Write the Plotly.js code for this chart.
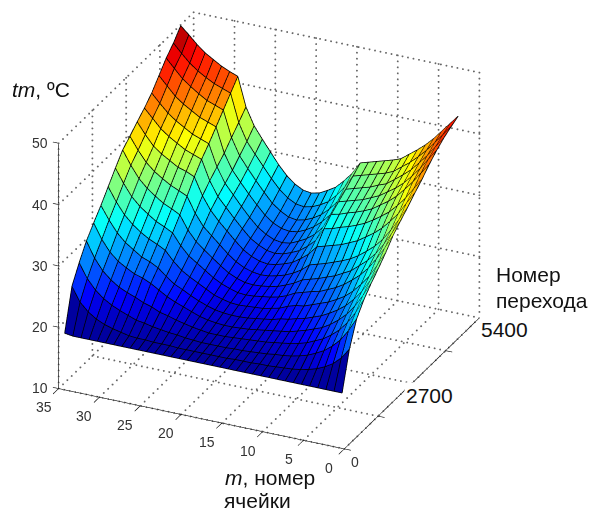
<!DOCTYPE html>
<html><head><meta charset="utf-8">
<script src="https://cdn.plot.ly/plotly-3.0.1.min.js"></script>
<style>html,body{margin:0;padding:0;background:#fff}#c{width:589px;height:510px}</style>
</head><body><div id="c"></div>
<script>
const cellNumbers=[0.3,1.3,2.3,3.3,4.3,5.3,6.3,7.3,8.3,9.3,10.3,11.3,12.3,13.3,14.3,15.3,16.3,17.3,18.3,19.3,20.3,21.3,22.3,23.3,24.3,25.3,26.3,27.3,28.3,29.3,30.3,31.3,32.3,33.3,34.3];
const transitions=[0,290,580,870,1160,1450,1740,2030,2320,2610,2900,3190,3480,3770,4060,4350,4640];
const temperature=[
[19,19,19,19,19,19,19,19,19,19,19,19,19,19,19,19,19,19,19,19,19,19,19,19,19,19,19,19,19,19,19,19,19,19,19.2],
[25.0,23.3,22.1,21.3,20.7,20.3,20.0,19.8,19.7,19.6,19.5,19.5,19.4,19.4,19.4,19.3,19.3,19.3,19.3,19.3,19.3,19.3,19.4,19.4,19.4,19.5,19.5,19.6,19.9,20.2,20.6,21.2,22.1,23.4,25.7],
[28.8,26.6,24.8,23.5,22.5,21.8,21.2,20.8,20.5,20.3,20.2,20.0,19.9,19.8,19.7,19.7,19.6,19.6,19.6,19.6,19.7,19.8,20.0,20.1,20.3,20.5,20.8,21.0,21.5,22.0,22.6,23.4,24.5,26.1,28.4],
[30.8,28.4,26.5,25.0,23.9,23.0,22.4,21.8,21.4,21.1,20.9,20.7,20.5,20.4,20.3,20.2,20.1,20.0,20.0,20.0,20.2,20.4,20.7,21.0,21.4,21.7,22.3,22.7,23.3,23.8,24.4,25.3,26.5,28.3,30.8],
[32.3,30.0,28.0,26.4,25.2,24.2,23.4,22.9,22.4,22.0,21.6,21.4,21.2,21.0,20.8,20.6,20.5,20.4,20.4,20.5,20.7,21.0,21.5,22.0,22.5,23.1,23.9,24.7,25.3,25.7,26.4,27.2,28.4,30.2,32.6],
[33.6,31.3,29.3,27.7,26.4,25.4,24.6,23.9,23.4,22.9,22.6,22.2,22.0,21.6,21.4,21.2,21.0,20.9,20.9,21.0,21.2,21.6,22.1,22.7,23.4,24.0,25.0,26.1,26.8,27.3,28.2,29.1,30.4,32.2,34.3],
[35.0,32.7,30.6,29.0,27.6,26.5,25.7,25.0,24.5,24.0,23.5,23.3,22.9,22.3,22.0,21.7,21.6,21.5,21.4,21.5,21.8,22.2,22.9,23.6,24.3,25.1,26.3,27.8,28.5,29.1,29.9,30.9,32.2,34.0,36.2],
[36.6,34.3,32.3,30.5,29.1,28.0,27.0,26.2,25.6,25.0,24.7,24.3,23.9,23.2,22.7,22.4,22.2,22.0,21.9,22.0,22.4,22.9,23.6,24.5,25.4,26.3,27.7,29.5,30.2,30.8,31.7,32.7,34.0,35.9,38.1],
[37.8,35.6,33.5,31.7,30.3,29.2,28.1,27.4,26.7,26.2,25.7,25.3,24.9,24.1,23.5,23.0,22.7,22.5,22.4,22.5,22.9,23.5,24.4,25.4,26.4,27.5,29.1,31.3,32.0,32.6,33.5,34.5,35.8,37.7,39.9],
[38.9,36.7,34.7,32.9,31.5,30.4,29.4,28.6,28.0,27.5,27.0,26.6,26.2,25.1,24.3,23.7,23.3,23.0,22.9,23.1,23.5,24.2,25.2,26.4,27.6,28.8,30.7,33.2,33.8,34.4,35.2,36.1,37.3,39.0,41.0],
[40.1,38.2,36.2,34.7,33.3,32.2,31.3,30.4,29.8,29.2,28.8,28.4,28.0,26.5,25.5,24.6,24.1,23.7,23.5,23.7,24.2,25.0,26.2,27.5,28.8,30.3,32.4,35.2,35.8,36.2,37.0,37.8,38.8,40.4,42.2],
[41.2,39.4,37.6,36.1,34.8,33.8,32.9,32.1,31.5,31.0,30.6,30.1,29.8,27.6,26.4,25.4,24.8,24.3,24.1,24.3,24.9,25.7,27.0,28.4,29.9,31.4,33.7,36.9,37.4,37.9,38.7,39.5,40.5,41.9,43.3],
[42.5,40.8,39.1,37.6,36.2,35.1,34.2,33.3,32.7,32.2,31.8,31.3,31.0,28.6,27.2,26.2,25.5,24.9,24.7,24.9,25.5,26.4,27.7,29.2,30.8,32.4,34.8,38.3,38.8,39.3,40.1,40.9,41.9,43.2,44.6],
[43.6,41.9,40.1,38.6,37.2,36.1,35.2,34.3,33.7,33.1,32.7,32.3,31.9,29.5,28.1,27.0,26.2,25.6,25.4,25.6,26.2,27.2,28.6,30.1,31.7,33.4,35.9,39.9,40.4,40.9,41.7,42.5,43.5,44.9,46.3],
[44.5,42.8,41.1,39.6,38.2,37.1,36.1,35.1,34.6,34.0,33.6,33.2,32.8,30.5,29.0,27.8,27.0,26.4,26.1,26.3,27.0,28.0,29.5,31.1,32.8,34.6,37.3,41.5,42.0,42.5,43.3,44.2,45.2,46.6,48.0],
[45.2,43.6,42.0,40.5,39.2,38.0,37.0,36.0,35.4,35.0,34.6,34.2,33.8,31.7,30.1,28.8,28.0,27.4,27.1,27.3,28.0,29.1,30.6,32.3,34.0,35.8,38.6,43.1,43.6,44.1,44.8,45.6,46.6,47.9,49.3],
[45.8,44.3,42.8,41.3,40.0,38.9,37.9,36.9,36.4,36.0,35.6,35.2,34.8,32.8,31.3,30.0,29.2,28.5,28.2,28.4,29.1,30.2,31.7,33.5,35.3,37.2,40.0,44.7,45.2,45.8,46.6,47.4,48.5,49.8,51.0]
];
const mTicks=[0,5,10,15,20,25,30,35];
const mTickLabels=['0','5','10','15','20','25','30','35'];
const nTicks=[0,1350,2700,4050,5400];
const nBigLabels=[[2700,'2700'],[5400,'5400']];
const zTicks=[10,20,30,40,50];
const zTickLabels=['10','20','30','40','50'];
const cmin=18,cmax=50;

function jet(v){
  const t=Math.max(0,Math.min(1,(v-cmin)/(cmax-cmin)));
  const f=a=>Math.round(255*Math.max(0,Math.min(1,1.5-Math.abs(4*t-a))));
  return 'rgb('+f(3)+','+f(2)+','+f(1)+')';
}
const X=[],Y=[],Z=[],I=[],J=[],K=[],FC=[];
const nr=transitions.length,nc=cellNumbers.length;
transitions.forEach((t,r)=>cellNumbers.forEach((m,c)=>{X.push(t);Y.push(m);Z.push(temperature[r][c]);}));
for(let r=0;r<nr-1;r++)for(let c=0;c<nc-1;c++){
  const a=r*nc+c,b=a+1,d=a+nc,e=d+1;
  const col=jet(temperature[r][c]);
  I.push(a,a);J.push(b,e);K.push(e,d);FC.push(col,col);
}
const surf={type:'mesh3d',x:X,y:Y,z:Z,i:I,j:J,k:K,facecolor:FC,flatshading:true,showscale:false,hoverinfo:'skip',
  lighting:{ambient:1,diffuse:0,specular:0,fresnel:0,roughness:1}};
function lines(segs,style){
  const x=[],y=[],z=[];
  segs.forEach(s=>{x.push(s[0][0],s[1][0],null);y.push(s[0][1],s[1][1],null);z.push(s[0][2],s[1][2],null);});
  return {type:'scatter3d',mode:'lines',x,y,z,line:style,hoverinfo:'skip',showlegend:false};
}
// the wire grid sits a hair in front of the faces, towards the camera, so it is not buried in them
const lift=(r,c)=>[transitions[r]-14,cellNumbers[c]-0.08,temperature[r][c]+0.1];
const meshSegs=[];
for(let r=0;r<nr;r++)for(let c=0;c<nc-1;c++)meshSegs.push([lift(r,c),lift(r,c+1)]);
for(let c=0;c<nc;c++)for(let r=0;r<nr-1;r++)meshSegs.push([lift(r,c),lift(r+1,c)]);
const nEnd=5400,mEnd=35,zLo=10,zHi=50;
const grid=[];
mTicks.forEach(m=>{grid.push([[0,m,zLo],[nEnd,m,zLo]]);grid.push([[nEnd,m,zLo],[nEnd,m,zHi]]);});
nTicks.forEach(n=>{grid.push([[n,0,zLo],[n,mEnd,zLo]]);grid.push([[n,mEnd,zLo],[n,mEnd,zHi]]);});
zTicks.forEach(z=>{grid.push([[0,mEnd,z],[nEnd,mEnd,z]]);grid.push([[nEnd,0,z],[nEnd,mEnd,z]]);});
const axes=[[[0,0,zLo],[0,mEnd,zLo]],[[0,0,zLo],[nEnd,0,zLo]],[[0,mEnd,zLo],[0,mEnd,zHi]]];
mTicks.forEach(m=>axes.push([[0,m,zLo],[-220,m,zLo]]));
nTicks.forEach(n=>axes.push([[n,0,zLo],[n,-0.8,zLo]]));
zTicks.forEach(z=>axes.push([[0,mEnd,z],[0,mEnd+0.7,z]]));

const dots={x:[],y:[],z:[]};
grid.forEach(s=>{
  const a=s[0],b=s[1];
  const n=Math.round(Math.hypot((b[0]-a[0])*0.0346,(b[1]-a[1])*8.9,(b[2]-a[2])*6.075)/6);
  for(let i=0;i<=n;i++){const f=i/n;dots.x.push(a[0]+(b[0]-a[0])*f);dots.y.push(a[1]+(b[1]-a[1])*f);dots.z.push(a[2]+(b[2]-a[2])*f);}
});
const data=[
  {type:'scatter3d',mode:'markers',x:dots.x,y:dots.y,z:dots.z,marker:{size:1.1,color:'#666',line:{width:0}},hoverinfo:'skip',showlegend:false},
  surf,
  lines(meshSegs,{color:'#000',width:1.6}),
  lines(axes,{color:'#000',width:1.2})
];
const tickFont={family:'"Liberation Sans Narrow","Liberation Sans",Arial,sans-serif',size:14,color:'#333'};
const bigFont={family:'"Liberation Sans",Arial,sans-serif',size:21,color:'#111'};
const sceneAnn=[];
mTicks.forEach((m,i)=>sceneAnn.push({x:0,y:m,z:zLo,text:mTickLabels[i],showarrow:false,font:tickFont,xshift:-15,yshift:-19}));
zTicks.forEach((z,i)=>sceneAnn.push({x:0,y:mEnd,z:z,text:zTickLabels[i],showarrow:false,font:tickFont,xshift:-19,yshift:0}));
sceneAnn.push({x:0,y:0,z:zLo,text:'0',showarrow:false,font:tickFont,xshift:11,yshift:-13});
nBigLabels.forEach(l=>sceneAnn.push({x:l[0],y:0,z:zLo,text:l[1],showarrow:false,font:bigFont,bgcolor:'#fff',xshift:l[0]===5400?25:18,yshift:-12}));

const paperLabels=[
  ['<i>tm</i>, ºC',10,89],
  ['<i>m</i>, номер',223,477],
  ['ячейки',222,500],
  ['Номер',494,274],
  ['перехода',494,300]
];
const ann=paperLabels.map(l=>({xref:'paper',yref:'paper',x:l[1]/589,y:1-l[2]/510,xanchor:'left',yanchor:'middle',text:l[0],showarrow:false,font:bigFont}));
const hid={visible:false,showgrid:false,zeroline:false,showspikes:false};
const layout={width:589,height:510,margin:{l:0,r:0,t:0,b:0},paper_bgcolor:'#fff',showlegend:false,annotations:ann,
  scene:{domain:{x:[0,0.9134],y:[0.108,1]},
    aspectmode:'manual',aspectratio:{x:1.56,y:1.465,z:1.3},
    xaxis:Object.assign({range:[-300,5700]},hid),
    yaxis:Object.assign({range:[-1,36]},hid),
    zaxis:Object.assign({range:[9,52]},hid),
    camera:{projection:{type:'orthographic'},up:{x:0,y:0,z:1},center:{x:0,y:0,z:0},
      eye:{x:-0.808*1.063,y:-0.377*1.063,z:0.4525*1.063}},
    annotations:sceneAnn}};
Plotly.newPlot('c',data,layout,{displayModeBar:false});
</script></body></html>
